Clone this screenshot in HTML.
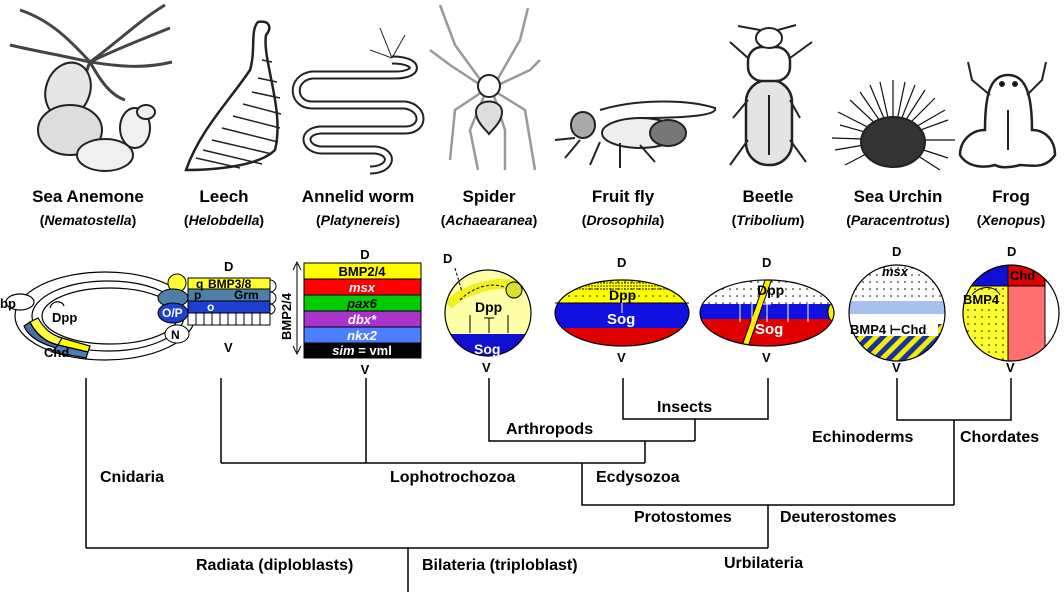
<!DOCTYPE html>
<html><head><meta charset="utf-8"><style>
html,body{margin:0;padding:0;background:#fff;}
svg{display:block;}
text{font-family:"Liberation Sans",sans-serif;font-weight:bold;}
</style></head><body>
<svg width="1064" height="592" viewBox="0 0 1064 592" xmlns="http://www.w3.org/2000/svg">
<defs>
<pattern id="dots" width="7" height="7" patternUnits="userSpaceOnUse"><circle cx="2" cy="2" r="0.8" fill="#000"/></pattern>
<pattern id="dense" width="3" height="3" patternUnits="userSpaceOnUse"><circle cx="1" cy="1" r="0.7" fill="#000"/></pattern>
<pattern id="hatch" width="10" height="10" patternUnits="userSpaceOnUse" patternTransform="rotate(45)"><rect width="10" height="10" fill="#ee0"/><rect width="5" height="10" fill="#1b2fa0"/></pattern>
<clipPath id="ffc"><ellipse cx="622" cy="313" rx="67" ry="33"/></clipPath>
<clipPath id="bc"><ellipse cx="767" cy="313" rx="67" ry="33"/></clipPath>
<clipPath id="uc"><circle cx="897" cy="313" r="48"/></clipPath>
<clipPath id="frc"><circle cx="1011" cy="313" r="48"/></clipPath>
<clipPath id="spc"><circle cx="488" cy="313" r="43"/></clipPath>
</defs>

<!-- ANIMALS (sketchy) -->
<g fill="none" stroke="#222" stroke-width="2">
<path d="M90 62 C70 40 50 20 20 10 M90 62 C120 40 140 20 165 5 M90 62 C115 50 140 40 170 28 M90 62 C60 55 30 50 10 45 M90 62 C110 65 140 70 172 62 M90 62 C100 80 110 95 125 100 M90 62 C82 80 85 95 82 110" stroke="#444" stroke-width="3"/>
<ellipse cx="68" cy="90" rx="22" ry="28" fill="#e6e6e6" transform="rotate(20 68 90)"/>
<ellipse cx="70" cy="130" rx="32" ry="25" fill="#ddd"/>
<ellipse cx="105" cy="155" rx="28" ry="16" fill="#f0f0f0"/>
<ellipse cx="135" cy="128" rx="15" ry="20" fill="#f0f0f0"/>
<ellipse cx="146" cy="112" rx="9" ry="7" fill="#f0f0f0"/>
<path d="M258 22 C270 20 272 28 266 35 C262 60 285 110 275 150 C260 165 220 170 186 170 C200 130 230 100 250 70 C256 50 250 30 258 22 Z" fill="#fff" stroke-width="2.5"/>
<path d="M262 60 L272 62 M258 78 L277 82 M252 92 L280 98 M243 104 L281 114 M233 116 L280 128 M222 128 L278 142 M212 140 L272 154 M203 150 L262 164 M196 158 L240 168" stroke-width="1.5"/>
<path d="M392 60 C420 60 420 75 395 75 L312 75 C290 78 292 105 312 105 L405 105 C425 108 425 130 405 130 L320 130 C300 132 305 150 322 150 L375 150 C395 152 392 170 370 170" stroke="#222" stroke-width="9"/>
<path d="M392 60 C420 60 420 75 395 75 L312 75 C290 78 292 105 312 105 L405 105 C425 108 425 130 405 130 L320 130 C300 132 305 150 322 150 L375 150 C395 152 392 170 370 170" stroke="#fff" stroke-width="5"/>
<path d="M392 58 L380 28 M392 58 L405 35 M392 58 L370 50" stroke-width="1"/>
<g stroke="#999" stroke-width="2.5"><path d="M482 82 L455 45 L440 5 M496 82 L520 40 L528 8 M482 86 L450 65 L430 50 M496 86 L530 70 L540 60 M482 92 L455 110 L450 160 M496 92 L525 110 L535 170 M484 96 L470 130 L478 170 M494 96 L505 130 L505 170"/></g>
<circle cx="489" cy="86" r="11" fill="#fff"/>
<path d="M476 112 C476 98 502 98 502 112 C502 122 492 130 489 134 C486 130 476 122 476 112 Z" fill="#ddd"/>
<path d="M600 110 C640 98 690 100 715 108 C718 115 690 118 640 118" fill="#fff" stroke-width="2"/>
<ellipse cx="640" cy="133" rx="38" ry="15" fill="#eee"/>
<ellipse cx="668" cy="133" rx="18" ry="13" fill="#777"/>
<ellipse cx="583" cy="125" rx="12" ry="13" fill="#aaa"/>
<path d="M580 140 L565 158 M600 142 L590 165 M620 143 L620 168 M640 145 L655 162 M575 138 L555 140" stroke-width="2"/>
<rect x="746" y="80" width="46" height="85" rx="22" fill="#e4e4e4" stroke-width="2.5"/>
<rect x="748" y="47" width="42" height="34" rx="14" fill="#fff" stroke-width="2.5"/>
<ellipse cx="769" cy="38" rx="13" ry="10" fill="#fff"/>
<path d="M769 95 L769 155 M748 58 L730 42 M790 58 L812 42 M748 100 L733 118 M790 100 L800 118 M748 140 L730 165 M790 140 L806 162 M760 30 L738 26 M778 30 L796 25" stroke-width="2"/>
<g stroke="#111" stroke-width="1.2">
<path d="M893 140 L840 125 M893 140 L850 100 M893 140 L870 85 M893 140 L893 80 M893 140 L915 85 M893 140 L935 98 M893 140 L948 120 M893 140 L955 140 M893 140 L948 158 M893 140 L835 150 M893 140 L832 138 M893 140 L845 165 M893 140 L940 170 M893 140 L860 92 M893 140 L925 90 M893 140 L880 82 M893 140 L905 82 M893 140 L945 110 M893 140 L838 112"/>
</g>
<ellipse cx="893" cy="142" rx="32" ry="25" fill="#333"/>
<path d="M985 130 C985 90 992 75 1008 75 C1024 75 1032 90 1032 130 C1045 130 1055 140 1055 155 C1045 170 1030 165 1020 165 C1010 168 1000 168 995 165 C985 168 968 168 960 155 C960 140 972 130 985 130 Z" fill="#fff" stroke-width="2.5"/>
<path d="M990 95 L972 80 L968 62 M1027 95 L1042 80 L1046 62 M1008 110 L1008 150" stroke-width="2"/>
<circle cx="1002" cy="84" r="2" fill="#000"/><circle cx="1015" cy="84" r="2" fill="#000"/>
</g>

<g font-size="17" text-anchor="middle" fill="#000">
<text x="88" y="202">Sea Anemone</text>
<text x="224" y="202">Leech</text>
<text x="358" y="202">Annelid worm</text>
<text x="489" y="202">Spider</text>
<text x="623" y="202">Fruit fly</text>
<text x="768" y="202">Beetle</text>
<text x="898" y="202">Sea Urchin</text>
<text x="1011" y="202">Frog</text>
</g>
<g font-size="14" text-anchor="middle" fill="#000">
<text x="88" y="225">(<tspan font-style="italic">Nematostella</tspan>)</text>
<text x="224" y="225">(<tspan font-style="italic">Helobdella</tspan>)</text>
<text x="358" y="225">(<tspan font-style="italic">Platynereis</tspan>)</text>
<text x="489" y="225">(<tspan font-style="italic">Achaearanea</tspan>)</text>
<text x="623" y="225">(<tspan font-style="italic">Drosophila</tspan>)</text>
<text x="768" y="225">(<tspan font-style="italic">Tribolium</tspan>)</text>
<text x="898" y="225">(<tspan font-style="italic">Paracentrotus</tspan>)</text>
<text x="1011" y="225">(<tspan font-style="italic">Xenopus</tspan>)</text>
</g>

<!-- Anemone embryo -->
<g stroke="#000" stroke-width="1.2" fill="none">
<ellipse cx="105" cy="316" rx="90" ry="44" fill="#fff"/>
<ellipse cx="108" cy="316" rx="76" ry="35"/>
<ellipse cx="110" cy="316" rx="68" ry="28" fill="#fff"/>
<path d="M38 318 C45 330 52 335 62 338 L58 345 C45 342 35 333 30 322 Z" fill="#fffe40"/>
<path d="M30 322 C35 333 45 342 58 345 C70 350 80 352 60 349 C40 344 28 336 24 326 Z" fill="#4a6fa5"/>
<path d="M62 338 L90 346 L88 352 L58 345 Z" fill="#ff0"/>
<path d="M58 345 L88 352 L86 358 L52 352 Z" fill="#4a7fbf"/>
<ellipse cx="20" cy="302" rx="14" ry="8" fill="#fff"/>
<path d="M50 308 C52 300 62 300 64 306"/>
</g>
<g font-size="13" fill="#000">
<text x="0" y="308">bp</text>
<text x="52" y="322">Dpp</text>
<text x="44" y="357">Chd</text>
</g>

<!-- Leech -->
<g stroke="#000" stroke-width="1">
<rect x="188" y="278" width="82" height="11" fill="#ffff30"/>
<rect x="188" y="289" width="82" height="12" fill="#4f7fa8"/>
<rect x="188" y="301" width="82" height="12" fill="#1e3fd0"/>
<rect x="188" y="313" width="82" height="12" fill="#fff"/>
<path d="M196 313v12M204 313v12M212 313v12M220 313v12M228 313v12M236 313v12M244 313v12M252 313v12M260 313v12" fill="none"/>
<circle cx="177" cy="283" r="9" fill="#ffff30"/>
<ellipse cx="173" cy="298" rx="15" ry="9" fill="#4f7fa8"/>
<ellipse cx="173" cy="313" rx="15" ry="10" fill="#1e3fd0"/>
<ellipse cx="177" cy="334" rx="12" ry="9" fill="#fff"/>
<path d="M270 280 a5 5 0 0 1 0 12 a5 5 0 0 1 0 12 a5 5 0 0 1 0 10" fill="none"/>
</g>
<g font-size="12" fill="#000"><text x="208" y="288">BMP3/8</text><text x="234" y="299">Grm</text><text x="196" y="288">q</text><text x="194" y="299">p</text></g>
<g font-size="12" fill="#fff"><text x="162" y="317">O/P</text><text x="207" y="311">o</text></g>
<text x="171" y="339" font-size="12">N</text>
<text x="224" y="271" font-size="13">D</text>
<text x="224" y="352" font-size="13">V</text>

<!-- Annelid -->
<g stroke="#000" stroke-width="1">
<rect x="304" y="263" width="117" height="16" fill="#ffff00"/>
<rect x="304" y="279" width="117" height="16" fill="#ff0000"/>
<rect x="304" y="295" width="117" height="16" fill="#00cc00"/>
<rect x="304" y="311" width="117" height="16" fill="#aa33cc"/>
<rect x="304" y="327" width="117" height="16" fill="#4a7fff"/>
<rect x="304" y="343" width="117" height="15" fill="#000"/>
<path d="M297 264 L297 352 M293 270 L297 262 L301 270 M293 346 L297 354 L301 346" fill="none"/>
</g>
<text x="0" y="0" font-size="13" transform="translate(291 340) rotate(-90)">BMP2/4</text>
<g font-size="13" text-anchor="middle">
<text x="362" y="276">BMP2/4</text>
<text x="362" y="292" fill="#fff" font-style="italic">msx</text>
<text x="362" y="308" font-style="italic">pax6</text>
<text x="362" y="324" fill="#fff" font-style="italic">dbx*</text>
<text x="362" y="340" fill="#fff" font-style="italic">nkx2</text>
<text x="362" y="355" fill="#fff"><tspan font-style="italic">sim</tspan> = vml</text>
<text x="365" y="259">D</text>
<text x="365" y="374">V</text>
</g>

<!-- Spider -->
<g clip-path="url(#spc)">
<rect x="440" y="265" width="100" height="100" fill="#ffffa8"/>
<rect x="440" y="334" width="100" height="40" fill="#1010d0"/>
<path d="M448 305 C470 285 500 282 515 285" stroke="#ee0" stroke-width="10" fill="none" opacity="0.8"/>
</g>
<circle cx="488" cy="313" r="43" fill="none" stroke="#000" stroke-width="1.2"/>
<circle cx="514" cy="290" r="8" fill="#dddd30" stroke="#000"/>
<path d="M455 268 L462 292 M460 300 C475 285 495 282 506 288" stroke="#000" fill="none" stroke-dasharray="3 2"/>
<path d="M470 333 L470 315 M508 333 L508 315 M489 333 L489 318 M484 318 L494 318" stroke="#000" fill="none"/>
<text x="475" y="312" font-size="14">Dpp</text>
<text x="474" y="354" font-size="14" fill="#fff">Sog</text>
<text x="443" y="263" font-size="13">D</text>
<text x="482" y="372" font-size="13">V</text>

<!-- Fruit fly -->
<g clip-path="url(#ffc)">
<rect x="555" y="278" width="135" height="25" fill="#ffff00"/>
<rect x="555" y="278" width="135" height="25" fill="url(#dots)"/>
<rect x="555" y="278" width="135" height="12" fill="url(#dense)"/>
<rect x="555" y="303" width="135" height="25" fill="#1010e0"/>
<rect x="555" y="328" width="135" height="25" fill="#e00000"/>
</g>
<ellipse cx="622" cy="313" rx="67" ry="33" fill="none" stroke="#000" stroke-width="1.2"/>
<path d="M555 303 L689 303" stroke="#000"/>
<path d="M622 313 L622 302 M618 302 L626 302" stroke="#fff" fill="none"/>
<text x="609" y="300" font-size="14">Dpp</text>
<text x="607" y="324" font-size="15" fill="#fff">Sog</text>
<text x="617" y="267" font-size="13">D</text>
<text x="617" y="362" font-size="13">V</text>

<!-- Beetle -->
<g clip-path="url(#bc)">
<rect x="700" y="278" width="135" height="26" fill="#fff"/>
<rect x="700" y="278" width="135" height="26" fill="url(#dots)"/>
<rect x="700" y="304" width="135" height="15" fill="#1010e0"/>
<rect x="700" y="319" width="135" height="35" fill="#e00000"/>
<path d="M742 355 L769 278" stroke="#000" stroke-width="7"/>
<path d="M742 355 L769 278" stroke="#ffee00" stroke-width="5"/>
<ellipse cx="833" cy="312" rx="5" ry="9" fill="#ffee00" stroke="#000"/>
<path d="M740 322v-25 M752 322v-25 M767 322v-18 M788 322v-25 M808 322v-25 M763 304h8" stroke="#fff" fill="none"/>
</g>
<ellipse cx="767" cy="313" rx="67" ry="33" fill="none" stroke="#000" stroke-width="1.2"/>
<text x="757" y="295" font-size="14">Dpp</text>
<text x="755" y="334" font-size="15" fill="#fff">Sog</text>
<text x="762" y="267" font-size="13">D</text>
<text x="762" y="362" font-size="13">V</text>

<!-- Urchin -->
<g clip-path="url(#uc)">
<rect x="845" y="262" width="104" height="40" fill="#fff"/>
<rect x="845" y="262" width="104" height="40" fill="url(#dots)"/>
<rect x="845" y="301" width="104" height="13" fill="#a8c0ee"/>
<rect x="845" y="314" width="104" height="10" fill="#fff"/>
<rect x="845" y="324" width="104" height="40" fill="url(#hatch)"/>
<rect x="850" y="321" width="88" height="15" fill="#fff"/>
</g>
<circle cx="897" cy="313" r="48" fill="none" stroke="#000" stroke-width="1.2"/>
<text x="882" y="276" font-size="13" font-style="italic">msx</text>
<text x="850" y="334" font-size="13">BMP4 ⊢Chd</text>
<text x="892" y="256" font-size="13">D</text>
<text x="892" y="372" font-size="13">V</text>

<!-- Frog -->
<g clip-path="url(#frc)">
<rect x="960" y="262" width="104" height="104" fill="#fff"/>
<rect x="960" y="262" width="48" height="24" fill="#1010d0"/>
<rect x="1008" y="262" width="37" height="24" fill="#e00000"/>
<rect x="1008" y="286" width="37" height="80" fill="#ff6f6f"/>
<rect x="960" y="286" width="48" height="80" fill="#ffff30"/>
<rect x="960" y="286" width="48" height="80" fill="url(#dots)"/>
<path d="M1008 262v104 M960 286h85 M1045 262v104" stroke="#000"/>
</g>
<circle cx="1011" cy="313" r="48" fill="none" stroke="#000" stroke-width="1.2"/>
<path d="M972 295 C980 285 995 285 1000 295" stroke="#000" fill="none"/>
<text x="1010" y="280" font-size="13">Chd</text>
<text x="963" y="304" font-size="13">BMP4</text>
<text x="1007" y="256" font-size="13">D</text>
<text x="1006" y="372" font-size="13">V</text>

<!-- Tree -->
<g stroke="#000" stroke-width="1.5" fill="none">
<path d="M86 378 V548 M221 378 V463 M366 378 V463 M221 463 H645 M489 378 V441 H695 M623 378 V419 H768 V378 M695 419 V441 M645 441 V463 M582 463 V505 H954 M897 378 V420 H1011 V378 M954 420 V505 M768 505 V548 M86 548 H768 M408 548 V592"/>
</g>
<g font-size="16" fill="#000">
<text x="657" y="412">Insects</text>
<text x="506" y="434">Arthropods</text>
<text x="812" y="442">Echinoderms</text>
<text x="960" y="442">Chordates</text>
<text x="100" y="482">Cnidaria</text>
<text x="390" y="482">Lophotrochozoa</text>
<text x="596" y="482">Ecdysozoa</text>
<text x="634" y="522">Protostomes</text>
<text x="780" y="522">Deuterostomes</text>
<text x="196" y="570">Radiata (diploblasts)</text>
<text x="422" y="570">Bilateria (triploblast)</text>
<text x="724" y="568">Urbilateria</text>
</g>
</svg>
</body></html>
